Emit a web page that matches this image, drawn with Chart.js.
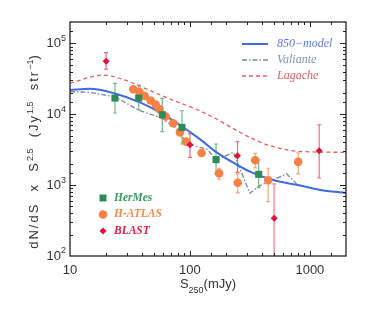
<!DOCTYPE html>
<html><head><meta charset="utf-8">
<script src="https://cdn.jsdelivr.net/npm/chart.js@4/dist/chart.umd.min.js"></script>
<style>html,body{margin:0;padding:0;background:#fff}#wrap{width:374px;height:312px;position:relative}</style>
</head><body><div id="wrap"><canvas id="c"></canvas></div>
<script>
// ---- data (S250 in mJy, dN/dS x S^2.5 in Jy^1.5 sr^-1) ----
const modelS = [10,14.7,23.7,38.3,56.2,82.5,121,167,245,316,492,775,1212,2000];
const modelV = [21900,22900,19600,14700,10600,7050,4450,2900,1950,1550,1180,1010,855,776];
const valianteS = [10,14.7,23.7,38.3,56.2,82.5,90.9,121,138,167,230,316,383,640,775];
const valianteV = [20900,20300,17600,11200,9020,5860,4010,3400,3230,2260,2900,767,984,1440,1040];
const lagacheS = [10,18.9,29.7,43.6,68.1,107,147,316,464,825,2000];
const lagacheV = [27500,35600,29700,22600,16400,12200,9530,4710,3600,2990,2900];

const hermesS  = [23.7,37.4,58.8,85.8,165,374];
const hermesV  = [16900,16900,9840,6520,2290,1420];
const hermesLo = [10400,11500,5680,3800,1440,923];
const hermesHi = [27200,25800,16700,11200,3800,2260];

const atlasS  = [33.7,37.8,41.9,47.0,51.8,55.9,62.8,72.6,82.5,93.1,125,175,250,350,449,799];
const atlasV  = [22500,20700,18100,15600,13700,11700,9310,7470,5540,4100,2840,1470,1080,2240,1170,2130];
const atlasLo = [null,null,null,null,null,null,null,null,null,null,null,1210,776,1750,586,1440];
const atlasHi = [null,null,null,null,null,null,null,null,null,null,null,1730,1440,2810,1730,2850];

const blastS  = [20,100,249,504,1195];
const blastV  = [56100,3720,2600,341,3060];
const blastLo = [43300,2470,1510,50,1260];
const blastHi = [74200,5310,4100,1040,7110];

const xTickValues = [10,100,1000];
const xTickLabels = ['10','100','1000'];
const yTickValues = [100,1000,10000,100000];
const yTickExps   = ['2','3','4','5'];

const topLegend = [
  {label:'850\u2212model', color:'#5a7ae6', line:'#4169e1', dash:[], width:2},
  {label:'Valiante', color:'#8592a0', line:'#7a8898', dash:[5,2,1.5,2], width:1.3},
  {label:'Lagache', color:'#e06262', line:'#e06262', dash:[4,3], width:1.3}
];
const bottomLegend = [
  {label:'HerMes', color:'#3a9a62', mark:'#2e8b57', shape:'rect'},
  {label:'H-ATLAS', color:'#f98a4d', mark:'#fa8145', shape:'circle'},
  {label:'BLAST', color:'#e0204a', mark:'#e0103c', shape:'diamond'}
];

const pts = (xs, ys) => xs.map((x,i)=>({x:x, y:ys[i]}));

const errSets = [
  {xs:hermesS, lo:hermesLo, hi:hermesHi, color:'#6fbb8c'},
  {xs:atlasS, lo:atlasLo, hi:atlasHi, color:'#f7a77c'},
  {xs:blastS, lo:blastLo, hi:blastHi, color:'#e66d88', special:{3:'#f2a6b8'}}
];

function drawSup(ctx, parts, x, y, align, spacing) {
  const base = '13px "Liberation Sans", Arial, sans-serif';
  const small = '9px "Liberation Sans", Arial, sans-serif';
  const sp = spacing || '0px';
  let w = 0;
  parts.forEach(p => {
    ctx.font = p.s ? small : base;
    ctx.letterSpacing = p.s ? '0px' : sp;
    p.w = ctx.measureText(p.t).width; w += p.w;
  });
  let cx = align === 'right' ? x - w : (align === 'center' ? x - w/2 : x);
  parts.forEach(p => {
    ctx.font = p.s ? small : base;
    ctx.letterSpacing = p.s ? '0px' : sp;
    const dy = p.s === 'sup' ? -5 : (p.s === 'sub' ? 5 : 0);
    ctx.fillText(p.t, cx, y + dy);
    cx += p.w;
  });
  ctx.letterSpacing = '0px';
  return w;
}

const deco = {
  id: 'deco',
  beforeDatasetsDraw(chart) {
    const {ctx, chartArea:a, scales:{x, y}} = chart;
    ctx.save();
    ctx.beginPath(); ctx.rect(a.left, a.top, a.right-a.left, a.bottom-a.top); ctx.clip();
    errSets.forEach(es => {
      es.xs.forEach((s,i) => {
        if (es.lo[i] == null) return;
        const px = x.getPixelForValue(s);
        const p1 = y.getPixelForValue(es.lo[i]), p2 = y.getPixelForValue(es.hi[i]);
        ctx.strokeStyle = (es.special && es.special[i]) || es.color;
        ctx.lineWidth = (es.special && es.special[i]) ? 2 : 1.2;
        ctx.beginPath();
        ctx.moveTo(px, p1); ctx.lineTo(px, p2);
        ctx.moveTo(px-2, p2); ctx.lineTo(px+2, p2);
        ctx.moveTo(px-2, p1); ctx.lineTo(px+2, p1);
        ctx.stroke();
      });
    });
    ctx.restore();
  },
  afterDatasetsDraw(chart) {
    const {ctx, chartArea:a, scales:{x, y}} = chart;
    ctx.save();
    ctx.strokeStyle = '#222'; ctx.lineWidth = 1.3;
    ctx.strokeRect(a.left, a.top, a.right-a.left, a.bottom-a.top);
    ctx.lineWidth = 1;
    const isMaj = v => Math.abs(Math.log10(v) - Math.round(Math.log10(v))) < 1e-6;
    ctx.beginPath();
    x.ticks.forEach(t => {
      const px = Math.round(x.getPixelForValue(t.value)) + 0.5;
      if (px < a.left + 1 || px > a.right - 1) return;
      const L = isMaj(t.value) ? 5 : 3;
      ctx.moveTo(px, a.bottom); ctx.lineTo(px, a.bottom - L);
      ctx.moveTo(px, a.top); ctx.lineTo(px, a.top + L);
    });
    y.ticks.forEach(t => {
      const py = Math.round(y.getPixelForValue(t.value)) + 0.5;
      if (py < a.top + 1 || py > a.bottom - 1) return;
      const L = isMaj(t.value) ? 6 : 3;
      ctx.moveTo(a.left, py); ctx.lineTo(a.left + L, py);
      ctx.moveTo(a.right, py); ctx.lineTo(a.right - L, py);
    });
    ctx.stroke();

    ctx.fillStyle = '#333';
    ctx.textBaseline = 'middle';
    ctx.font = '13px "Liberation Sans", Arial, sans-serif';
    ctx.textAlign = 'center';
    xTickValues.forEach((v,i) => ctx.fillText(xTickLabels[i], x.getPixelForValue(v), a.bottom + 14));
    ctx.textAlign = 'left';
    yTickValues.forEach((v,i) => {
      const py = y.getPixelForValue(v);
      drawSup(ctx, [{t:'10'},{t:yTickExps[i], s:'sup'}], a.left - 4, py, 'right');
    });

    ctx.textBaseline = 'alphabetic';
    drawSup(ctx, [{t:'S'},{t:'250', s:'sub'},{t:'(mJy)'}], (a.left + a.right)/2, 288, 'center');
    ctx.save();
    ctx.translate(38, 151);
    ctx.rotate(-Math.PI/2);
    drawSup(ctx, [{t:'dN/dS  x  S'},{t:'2.5', s:'sup'},{t:'  (Jy'},{t:'1.5', s:'sup'},{t:'  str'},{t:'\u22121', s:'sup'},{t:')'}], 0, 0, 'center', '2px');
    ctx.restore();

    ctx.font = 'italic 12px "Liberation Serif", "Times New Roman", serif';
    ctx.textBaseline = 'middle';
    topLegend.forEach((it, i) => {
      const ly = 44 + i * 16;
      ctx.strokeStyle = it.line; ctx.lineWidth = it.width; ctx.setLineDash(it.dash);
      ctx.beginPath(); ctx.moveTo(242, ly); ctx.lineTo(268, ly); ctx.stroke();
      ctx.setLineDash([]);
      ctx.fillStyle = it.color;
      ctx.fillText(it.label, 277, ly);
    });
    ctx.font = 'italic bold 11.5px "Liberation Serif", "Times New Roman", serif';
    bottomLegend.forEach((it, i) => {
      const ly = 198 + i * 16.5;
      ctx.fillStyle = it.mark;
      ctx.beginPath();
      if (it.shape === 'rect') ctx.rect(99.5, ly - 3.5, 7, 7);
      else if (it.shape === 'circle') ctx.arc(103, ly, 4.3, 0, Math.PI*2);
      else { ctx.moveTo(103, ly-3.5); ctx.lineTo(106.5, ly); ctx.lineTo(103, ly+3.5); ctx.lineTo(99.5, ly); ctx.closePath(); }
      ctx.fill();
      ctx.fillStyle = it.color;
      ctx.fillText(it.label, 114, ly);
    });
    ctx.restore();
  }
};

new Chart(document.getElementById('c'), {
  type: 'scatter',
  data: {
    datasets: [
      {label:'BLAST', data: pts(blastS, blastV), pointStyle:'rectRot', pointRadius:3.5, backgroundColor:'#e0103c', borderColor:'#e0103c', borderWidth:0},
      {label:'HerMes', data: pts(hermesS, hermesV), pointStyle:'rect', pointRadius:5, backgroundColor:'#2e8b57', borderColor:'#2e8b57', borderWidth:0},
      {label:'H-ATLAS', data: pts(atlasS, atlasV), pointStyle:'circle', pointRadius:4.3, backgroundColor:'#fa8145', borderColor:'#fa8145', borderWidth:0},
      {label:'850-model', data: pts(modelS, modelV), showLine:true, borderColor:'#4169e1', borderWidth:2, pointRadius:0, cubicInterpolationMode:'monotone'},
      {label:'Valiante', data: pts(valianteS, valianteV), showLine:true, borderColor:'#7a8898', borderWidth:1.3, borderDash:[5,2,1.5,2], pointRadius:0, tension:0},
      {label:'Lagache', data: pts(lagacheS, lagacheV), showLine:true, borderColor:'#e06262', borderWidth:1.3, borderDash:[4,3], pointRadius:0, cubicInterpolationMode:'monotone'}
    ]
  },
  options: {
    responsive: true, maintainAspectRatio: false, animation: false,
    layout: {padding: {top:22, right:28, left:0, bottom:0}},
    plugins: {legend:{display:false}, tooltip:{enabled:false}},
    scales: {
      x: {type:'logarithmic', min:10, max:2000, grid:{display:false, drawTicks:false}, border:{display:false},
          ticks:{display:false}, afterFit(s){ s.height = 56; }},
      y: {type:'logarithmic', min:100, max:200000, grid:{display:false, drawTicks:false}, border:{display:false},
          ticks:{display:false}, afterFit(s){ s.width = 70; }}
    }
  },
  plugins: [deco]
});
</script>
</body></html>
